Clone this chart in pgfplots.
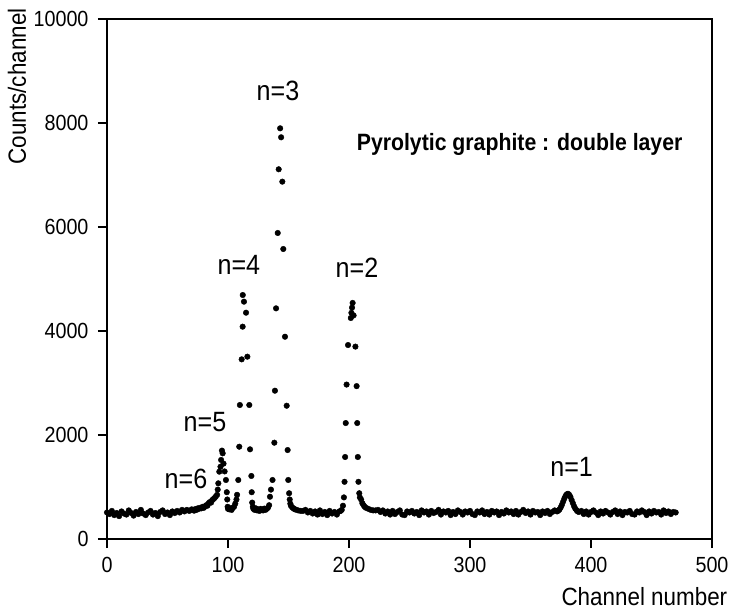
\documentclass[border=0pt]{standalone}
\usepackage{pgfplots}
\pgfplotsset{compat=1.18}
\usepackage{pgfplotstable}
\usepackage{fontspec}
\setmainfont{Liberation Sans}[FakeStretch=0.9]

\pgfplotstableread{
ch y
0 510
2 480
4 540
6 460
8 500
10 440
12 530
14 490
16 470
18 550
20 500
22 450
24 520
26 480
28 560
30 490
32 460
34 510
36 540
38 470
40 500
42 440
44 520
46 550
48 480
50 510
52 460
54 530
56 500
58 540
60 510
62 560
64 530
66 560
68 540
70 570
71 560
72 545
73 575
74 560
75 590
76 580
77 600
78 590
79 620
80 600
81 630
82 650
83 640
84 690
85 710
86 700
87 750
88 770
89 790
90 820
91 850
91.5 950
92 1071
92.8 1295
93.8 1390
94.3 1520
95 1700
95.6 1648
96.3 1450
97.2 1300
98.3 1135
99 900
99.4 760
99.7 620
100 580
101 570
102 590
103 560
104 600
105 620
106 680
107 760
107.5 850
108.5 1135
109.3 1775
109.8 2577
111.3 3455
112.1 4083
112.2 4692
113.2 4564
114.9 4352
116 3506
117.6 2577
118.2 1725
119.3 1212
119.6 900
120 700
120.5 620
121 580
122 560
123 590
124 550
125 570
126 540
127 580
128 560
129 550
130 585
131 560
132 580
133 600
134 650
134.7 813
135.5 950
136.8 1135
138.3 1852
138.8 2852
139.7 4436
141.1 5885
141.9 7110
143.1 7898
143.9 7725
144.9 6872
145.7 5577
147.1 3890
148.5 2563
149.3 1711
149.8 1135
150.5 880
151 760
151.5 680
152 640
153 610
154 590
155 575
156 565
158 550
160 540
162 540
164 560
166 510
168 540
170 490
172 530
174 470
176 550
178 480
180 520
182 460
184 540
186 490
188 520
190 470
192 530
193 540
194 560
195 640
195.8 800
196.3 1100
196.8 1577
197.3 2230
198 2970
199.2 3730
201.5 4250
202 4350
202.5 4450
203 4540
203.8 4300
205.3 3700
206.3 2940
206.8 2230
207.3 1577
207.8 1100
208.5 880
209 800
210 760
211 690
212 650
213 620
214 600
216 580
218 560
220 550
222 550
224 560
226 520
228 550
230 490
232 530
234 470
236 540
238 480
240 520
242 550
244 470
246 460
248 530
250 510
252 540
254 490
256 520
258 460
260 550
262 510
264 530
266 470
268 540
270 500
272 520
274 560
276 470
278 530
280 510
282 540
284 460
286 520
288 480
290 550
292 520
294 470
296 530
298 510
300 540
302 480
304 460
306 530
308 510
310 550
312 480
314 520
316 470
318 540
320 510
322 530
324 460
326 520
328 490
330 550
332 510
334 530
336 480
338 540
340 470
342 520
344 560
346 500
348 530
350 470
352 540
354 510
356 520
358 460
360 530
362 500
364 540
366 480
368 520
370 550
372 530
373 545
374 570
375 610
376 660
377 720
378 780
379 830
380 860
381 870
382 850
383 810
384 750
385 690
386 630
387 585
388 555
389 530
390 520
392 540
394 480
396 530
398 470
400 520
402 550
404 510
406 460
408 530
410 490
412 540
414 510
416 470
418 520
420 550
422 480
424 530
426 460
428 520
430 510
432 540
434 480
436 470
438 530
440 510
442 550
444 520
446 460
448 530
450 490
452 540
454 510
456 520
458 470
460 550
462 500
464 530
466 480
468 520
470 510
}\spectrum

\begin{document}
\begin{tikzpicture}
\begin{axis}[
  name=ax,
  at={(0,0)},
  scale only axis,
  width=605bp, height=520bp,
  xmin=0, xmax=500, ymin=0, ymax=10000,
  xtick={0,100,200,300,400,500},
  ytick={0,2000,4000,6000,8000,10000},
  xtick pos=bottom, ytick pos=left,
  tick align=outside,
  major tick length=9bp,
  minor tick num=0,
  axis line style={line width=1.3pt},
  every tick/.style={black, line width=1.3pt},
  /pgf/number format/assume math mode=true,
  /pgf/number format/1000 sep={},
  scaled y ticks=false,
  tick label style={font=\fontsize{22}{26}\selectfont},
  xticklabel style={yshift=-6bp},
  yticklabel style={xshift=-6bp},
  xlabel={Channel number},
  ylabel={Counts/channel},
  xlabel style={at={(rel axis cs:1.031,0)}, anchor=base east, yshift=-66bp, font=\fontsize{25}{30}\selectfont},
  ylabel style={at={(rel axis cs:-0.149,1.027)}, anchor=east, rotate=0, font=\fontsize{25}{30}\selectfont},
  clip=false,
]
\addplot[only marks, mark=*, mark size=2.8bp, black] table[x=ch, y=y] {\spectrum};
\node[font=\fontsize{28}{32}\selectfont, inner sep=0pt] at (axis cs:141.3,8615) {n=3};
\node[font=\fontsize{28}{32}\selectfont, inner sep=0pt] at (axis cs:109,5270) {n=4};
\node[font=\fontsize{28}{32}\selectfont, inner sep=0pt] at (axis cs:206.6,5212) {n=2};
\node[font=\fontsize{28}{32}\selectfont, inner sep=0pt] at (axis cs:81,2250) {n=5};
\node[font=\fontsize{28}{32}\selectfont, inner sep=0pt] at (axis cs:65.3,1154) {n=6};
\node[font=\fontsize{28}{32}\selectfont, inner sep=0pt] at (axis cs:384,1385) {n=1};
\node[font=\bfseries\fontsize{23.7}{28}\selectfont, inner sep=0pt] at (axis cs:341,7596) {Pyrolytic graphite : double layer};
\end{axis}
\pgfresetboundingbox
\path[use as bounding box] ([shift={(-107bp,-74bp)}]ax.south west) rectangle ([shift={(22bp,19bp)}]ax.north east);
\end{tikzpicture}
\end{document}
